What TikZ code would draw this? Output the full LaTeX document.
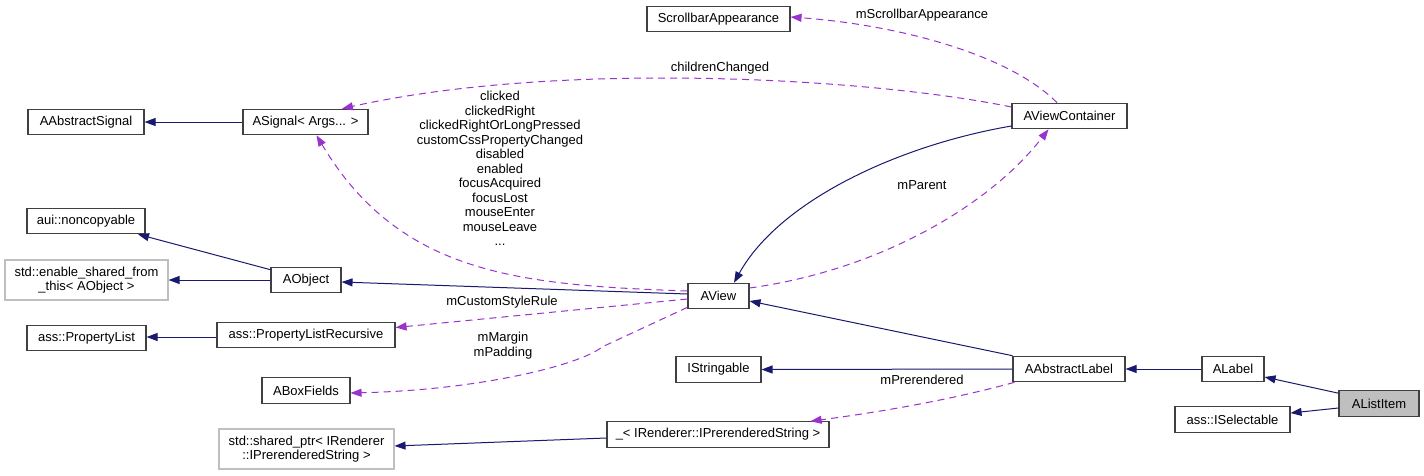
\documentclass[tikz,border=0pt]{standalone}
\usepackage{fontspec}
\setmainfont{Liberation Sans}
\usetikzlibrary{arrows.meta}
\definecolor{inhcol}{HTML}{191970}
\definecolor{usecol}{HTML}{9A32CD}
\definecolor{boxline}{HTML}{404040}
\definecolor{grayline}{HTML}{BFBFBF}
\tikzset{
  cls/.style={draw=boxline, line width=1.1pt, fill=white, inner sep=0pt, minimum height=25.5pt,
    font=\fontsize{13pt}{14.5pt}\selectfont, align=center},
  ext/.style={cls, draw=grayline, minimum height=40pt},
  inh/.style={draw=inhcol, line width=1pt, -{Triangle[length=11pt,width=8pt]}},
  use/.style={draw=usecol, line width=1pt, dash pattern=on 7pt off 5pt, -{Triangle[length=11pt,width=8pt]}},
  lbl/.style={font=\fontsize{13pt}{14.5pt}\selectfont, align=center, inner sep=0pt}
}
\begin{document}
\begin{tikzpicture}[x=1pt,y=-1pt]
\useasboundingbox[fill=white] (0,0) rectangle (1424,475);
% nodes
\node[cls, minimum width=116pt] (aabs) at (86,122) {AAbstractSignal};
\node[cls, minimum width=125pt] (asig) at (305.5,122) {ASignal< Args... >};
\node[cls, minimum width=118pt] (noncop) at (86,221) {aui::noncopyable};
\node[ext, minimum width=163pt] (enable) at (86.5,280) {std::enable\_shared\_from\\\_this< AObject >};
\node[cls, minimum width=70pt] (aobj) at (306,280) {AObject};
\node[cls, minimum width=119pt] (pl) at (86.5,338) {ass::PropertyList};
\node[cls, minimum width=178pt] (plr) at (306,335) {ass::PropertyListRecursive};
\node[cls, minimum width=88pt] (abf) at (306,390.5) {ABoxFields};
\node[ext, minimum width=175pt] (sp) at (306.5,449) {std::shared\_ptr< IRenderer\\::IPrerenderedString >};
\node[cls, minimum width=143pt] (sa) at (718.5,19) {ScrollbarAppearance};
\node[cls, minimum width=61pt] (aview) at (718.5,296) {AView};
\node[cls, minimum width=85pt] (istr) at (718.5,369.5) {IStringable};
\node[cls, minimum width=222pt] (irps) at (718,434.5) {\_< IRenderer::IPrerenderedString >};
\node[cls, minimum width=115pt] (avc) at (1069.5,116) {AViewContainer};
\node[cls, minimum width=112pt] (aal) at (1069,369) {AAbstractLabel};
\node[cls, minimum width=62pt] (alabel) at (1233,369) {ALabel};
\node[cls, minimum width=80pt, fill=grayline] (alist) at (1379,403.5) {AListItem};
\node[cls, minimum width=115pt] (isel) at (1232.5,419.5) {ass::ISelectable};
% inheritance edges
\draw[inh] (asig.west) -- (aabs.east);
\draw[inh] ([yshift=-3pt]aobj.north west) -- ([xshift=52pt]noncop.south);
\draw[inh] (aobj.west) -- (enable.east);
\draw[inh] ([yshift=2pt]aview.west) -- ([yshift=-2pt]aobj.east);
\draw[inh] ([yshift=-10pt]avc.west) .. controls (900,145) and (780,200) .. ([xshift=15.5pt]aview.north);
\draw[inh] (aal.north west) -- ([yshift=-5pt]aview.east);
\draw[inh] (aal.west) -- (istr.east);
\draw[inh] (alabel.west) -- (aal.east);
\draw[inh] ([yshift=-3pt]alist.north west) -- ([yshift=-8pt]alabel.east);
\draw[inh] ([yshift=-4.5pt]alist.west) -- ([yshift=6.5pt]isel.east);
\draw[inh] ([yshift=-2pt]plr.west) -- ([yshift=1pt]pl.east);
\draw[inh] ([yshift=-3.5pt]irps.west) -- ([yshift=3pt]sp.east);
% usage edges
\draw[use] ([xshift=-12.5pt]avc.north) .. controls (1010,55) and (900,25) .. ([yshift=2pt]sa.east);
\draw[use] ([yshift=9pt]avc.west) .. controls (870,78) and (560,60) .. ([xshift=36.5pt]asig.north);
\draw[use] ([yshift=5pt]aview.west) .. controls (520,285) and (400,275) .. ([xshift=11pt]asig.south);
\draw[use] ([yshift=8pt]aview.east) .. controls (880,270) and (990,205) .. ([xshift=-21pt]avc.south);
\draw[use] ([yshift=-3pt]aview.west) -- ([yshift=7.5pt]plr.east);
\draw[use] ([yshift=2pt]aview.south west) -- (602,347) .. controls (580,365) and (480,390) .. ([yshift=-2.5pt]abf.east);
\draw[use] ([xshift=2pt]aal.south west) .. controls (950,400) and (880,412) .. ([xshift=-19pt]irps.north east);
% labels
\node[lbl] (l1) at (922,15) {mScrollbarAppearance};
\node[lbl] (l2) at (720,68) {childrenChanged};
\node[lbl] (l3) at (500,168.5) {clicked\\clickedRight\\clickedRightOrLongPressed\\customCssPropertyChanged\\disabled\\enabled\\focusAcquired\\focusLost\\mouseEnter\\mouseLeave\\...};
\node[lbl] (l4) at (922,185) {mParent};
\node[lbl] (l5) at (502,302) {mCustomStyleRule};
\node[lbl] (l6) at (503,345.5) {mMargin\\mPadding};
\node[lbl] (l7) at (922,380) {mPrerendered};
\end{tikzpicture}
\end{document}
